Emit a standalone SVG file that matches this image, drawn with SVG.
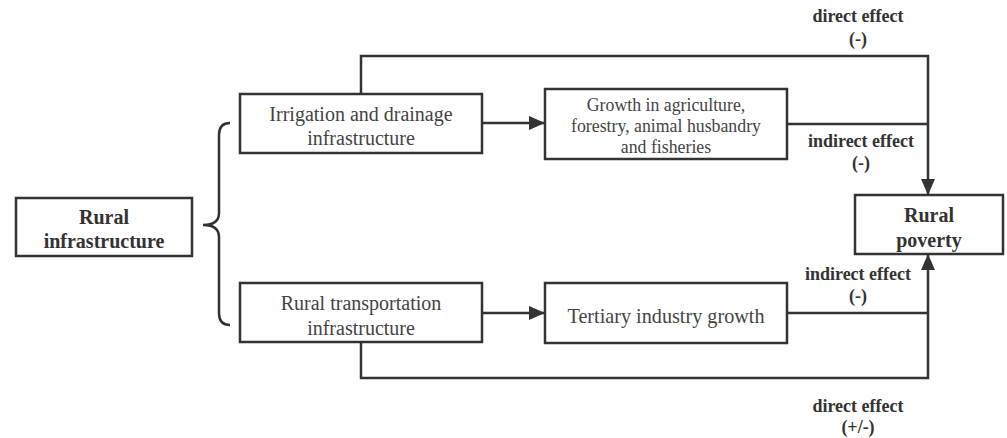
<svg xmlns="http://www.w3.org/2000/svg" width="1007" height="438" viewBox="0 0 1007 438">
<style>
.box{fill:#fff;stroke:#333;stroke-width:2.5}
.ln{fill:none;stroke:#333;stroke-width:2.5}
.t{font-family:'Liberation Serif','Times New Roman','DejaVu Serif',serif;fill:#444;text-anchor:middle}
.b{font-family:'Liberation Serif','Times New Roman','DejaVu Serif',serif;fill:#333;font-weight:bold;text-anchor:middle}
.s18{font-size:20px}
.s16{font-size:17.8px}
.s185{font-size:20.2px}
.sb{font-size:18px}
.sn{font-size:20px}
</style>
<defs>
<marker id="ah2" markerWidth="16" markerHeight="14" refX="16" refY="7" orient="auto" markerUnits="userSpaceOnUse" viewBox="0 0 16 14">
<path d="M0,0 L16,7 L0,14 Z" fill="#333"/>
</marker>
</defs>
<rect width="1007" height="438" fill="#fff"/>
<g id="connectors">
<path class="ln" d="M230,123 Q219,123 219,135 L219,213 Q219,225 203,225 Q219,225 219,237 L219,313 Q219,325 230,325"/>
<path class="ln" d="M482,123 L545,123" marker-end="url(#ah2)"/>
<path class="ln" d="M482,313 L545,313" marker-end="url(#ah2)"/>
<path class="ln" d="M361,94 L361,56 L928,56 L928,195" marker-end="url(#ah2)"/>
<path class="ln" d="M787,124 L928,124"/>
<path class="ln" d="M361,342 L361,378 L928,378 L928,254" marker-end="url(#ah2)"/>
<path class="ln" d="M787,313 L928,313"/>
</g>
<g id="rural-infrastructure">
<rect class="box" x="16" y="198" width="176" height="58"/>
<text class="b sn" x="104" y="224">Rural</text>
<text class="b sn" x="104" y="248">infrastructure</text>
</g>
<g id="irrigation">
<rect class="box" x="240" y="94" width="242" height="59"/>
<text class="t s18" x="361" y="121">Irrigation and drainage</text>
<text class="t s18" x="361" y="145">infrastructure</text>
</g>
<g id="transportation">
<rect class="box" x="240" y="283" width="242" height="59"/>
<text class="t s18" x="361" y="310">Rural transportation</text>
<text class="t s18" x="361" y="335">infrastructure</text>
</g>
<g id="growth-agri">
<rect class="box" x="545" y="89" width="242" height="70"/>
<text class="t s16" x="666" y="111">Growth in agriculture,</text>
<text class="t s16" x="666" y="132">forestry, animal husbandry</text>
<text class="t s16" x="666" y="153">and fisheries</text>
</g>
<g id="tertiary">
<rect class="box" x="545" y="283" width="242" height="60"/>
<text class="t s185" x="666" y="323">Tertiary industry growth</text>
</g>
<g id="rural-poverty">
<rect class="box" x="855" y="195" width="148" height="59"/>
<text class="b sn" x="929" y="222">Rural</text>
<text class="b sn" x="929" y="247">poverty</text>
</g>
<g id="labels">
<text class="b sb" x="858" y="22">direct effect</text>
<text class="b sb" x="858" y="45">(-)</text>
<text class="b sb" x="861" y="147">indirect effect</text>
<text class="b sb" x="861" y="169">(-)</text>
<text class="b sb" x="858" y="280">indirect effect</text>
<text class="b sb" x="858" y="302">(-)</text>
<text class="b sb" x="858" y="412">direct effect</text>
<text class="b sb" x="858" y="433">(+/-)</text>
</g>
</svg>
